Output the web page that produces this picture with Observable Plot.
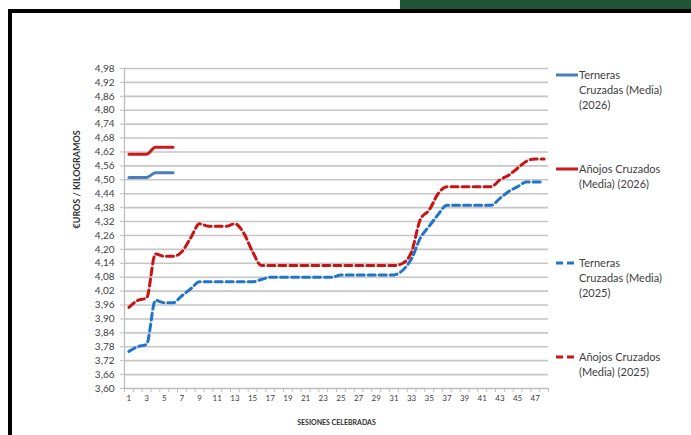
<!DOCTYPE html>
<html>
<head>
<meta charset="utf-8">
<script src="https://cdn.jsdelivr.net/npm/d3@7"></script>
<script src="https://cdn.jsdelivr.net/npm/@observablehq/plot@0.6"></script>
<style>
  html, body { margin: 0; padding: 0; background: #fff; }
  #wrap { position: relative; width: 691px; height: 435px; overflow: hidden; background: #fff; font-family: Lato, "Open Sans", sans-serif; }
  #chart { position: absolute; left: 0; top: 0; }
  .green { position: absolute; left: 400px; top: 0; width: 291px; height: 9px; background: #1f5535; }
  .frame { position: absolute; left: 8px; top: 9px; width: 700px; height: 440px; border-top: 4px solid #000; border-left: 4px solid #000; box-sizing: border-box; }
  .leg { position: absolute; left: 556px; font-size: 11px; line-height: 15px; color: #404040; }
  .leg svg { position: absolute; left: 0; top: 6px; }
  .leg div { position: absolute; left: 23px; top: 0; white-space: nowrap; }
</style>
</head>
<body>
<div id="wrap">
  <div class="green"></div>
  <div class="frame"></div>
  <div id="chart"></div>
  <div id="legend"></div>
</div>
<script>
const sessions = [1,2,3,4,5,6,7,8,9,10,11,12,13,14,15,16,17,18,19,20,21,22,23,24,25,26,27,28,29,30,31,32,33,34,35,36,37,38,39,40,41,42,43,44,45,46,47,48];
const sessions2026 = [1,2,3,4,5,6];

const terneras2026 = [4.51, 4.51, 4.51, 4.53, 4.53, 4.53];
const anojos2026 = [4.61, 4.61, 4.61, 4.64, 4.64, 4.64];

const terneras2025 = [3.76, 3.78, 3.79, 3.98, 3.97, 3.97, 4.00, 4.03, 4.06, 4.06, 4.06, 4.06, 4.06, 4.06, 4.06, 4.07,
  4.08, 4.08, 4.08, 4.08, 4.08, 4.08, 4.08, 4.08, 4.09, 4.09, 4.09, 4.09, 4.09, 4.09, 4.09, 4.11,
  4.16, 4.25, 4.30, 4.35, 4.39, 4.39, 4.39, 4.39, 4.39, 4.39, 4.42, 4.45, 4.47, 4.49, 4.49, 4.49];
const anojos2025 = [3.95, 3.98, 3.99, 4.18, 4.17, 4.17, 4.19, 4.25, 4.31, 4.30, 4.30, 4.30, 4.31, 4.27, 4.19, 4.13,
  4.13, 4.13, 4.13, 4.13, 4.13, 4.13, 4.13, 4.13, 4.13, 4.13, 4.13, 4.13, 4.13, 4.13, 4.13, 4.14,
  4.19, 4.33, 4.37, 4.44, 4.47, 4.47, 4.47, 4.47, 4.47, 4.47, 4.50, 4.52, 4.55, 4.58, 4.59, 4.59];

const yTicks = [3.60, 3.66, 3.72, 3.78, 3.84, 3.90, 3.96, 4.02, 4.08, 4.14, 4.20, 4.26, 4.32, 4.38, 4.44, 4.50, 4.56, 4.62, 4.68, 4.74, 4.80, 4.86, 4.92, 4.98];
const xTickLabels = [1,3,5,7,9,11,13,15,17,19,21,23,25,27,29,31,33,35,37,39,41,43,45,47];

const seriesNames = ["Terneras Cruzadas (Media) (2026)", "Añojos Cruzados (Media) (2026)", "Terneras Cruzadas (Media) (2025)", "Añojos Cruzados (Media) (2025)"];
const legendLines = [["Terneras", "Cruzadas (Media)", "(2026)"], ["Añojos Cruzados", "(Media) (2026)"], ["Terneras", "Cruzadas (Media)", "(2025)"], ["Añojos Cruzados", "(Media) (2025)"]];
const colors = ["#4a7ebb", "#cc1a1a", "#1f74cc", "#c81414"];
const dashed = [false, false, true, true];

const lines = [
  sessions2026.map((s, i) => ({s, v: terneras2026[i]})),
  sessions2026.map((s, i) => ({s, v: anojos2026[i]})),
  sessions.map((s, i) => ({s, v: terneras2025[i]})),
  sessions.map((s, i) => ({s, v: anojos2025[i]}))
];

const boundaries = sessions.map(d => d - 0.5).concat([sessions[sessions.length - 1] + 0.5]);
const fmt = d => d.toFixed(2).replace(".", ",");

const chart = Plot.plot({
  width: 691, height: 435,
  marginLeft: 124, marginRight: 143, marginTop: 68, marginBottom: 47,
  x: {domain: [0.5, 48.5]},
  y: {domain: [3.60, 4.98]},
  style: {fontFamily: "Lato, 'Open Sans', sans-serif", color: "#404040", background: "transparent", overflow: "visible"},
  marks: [
    Plot.gridY(yTicks.slice(1), {stroke: "#c6c6c6", strokeOpacity: 1, strokeWidth: 1.6}),
    Plot.ruleY([3.60], {stroke: "#bdbdbd", strokeWidth: 1.3}),
    Plot.ruleX([0.5], {stroke: "#bdbdbd", strokeWidth: 1.3}),
    Plot.axisY(yTicks, {tickFormat: fmt, tickSize: 4, tickPadding: 6, fontSize: 10, stroke: "#bdbdbd", fill: "#404040", label: null}),
    Plot.axisX(boundaries, {tickSize: 4, tickFormat: () => "", stroke: "#bdbdbd", label: null}),
    Plot.axisX(xTickLabels, {tickSize: 0, tickPadding: 7, fontSize: 8, fill: "#404040", label: null}),
    Plot.text(["SESIONES CELEBRADAS"], {frameAnchor: "bottom", dy: 36, fontSize: 7, fontWeight: "bold", fill: "#303030"}),
    Plot.text(["€UROS / KILOGRAMOS"], {frameAnchor: "left", dx: -47, rotate: -90, fontSize: 9, fontWeight: "bold", fill: "#303030"}),
    ...lines.map((data, k) => Plot.line(data, {
      x: "s", y: "v", stroke: colors[k], strokeWidth: 3,
      strokeDasharray: dashed[k] ? "7,4" : null,
      curve: "monotone-x"
    }))
  ]
});
document.getElementById("chart").appendChild(chart);

const legendTops = [67, 161, 255, 349];
const legend = document.getElementById("legend");
legendLines.forEach((txt, k) => {
  const item = document.createElement("div");
  item.className = "leg";
  item.style.top = legendTops[k] + "px";
  item.title = seriesNames[k];
  item.innerHTML = `<svg width="22" height="4"><line x1="0" x2="22" y1="2" y2="2" stroke="${colors[k]}" stroke-width="3" ${dashed[k] ? 'stroke-dasharray="7,4"' : ''}/></svg><div>${txt.join("<br>")}</div>`;
  legend.appendChild(item);
});
</script>
</body>
</html>
